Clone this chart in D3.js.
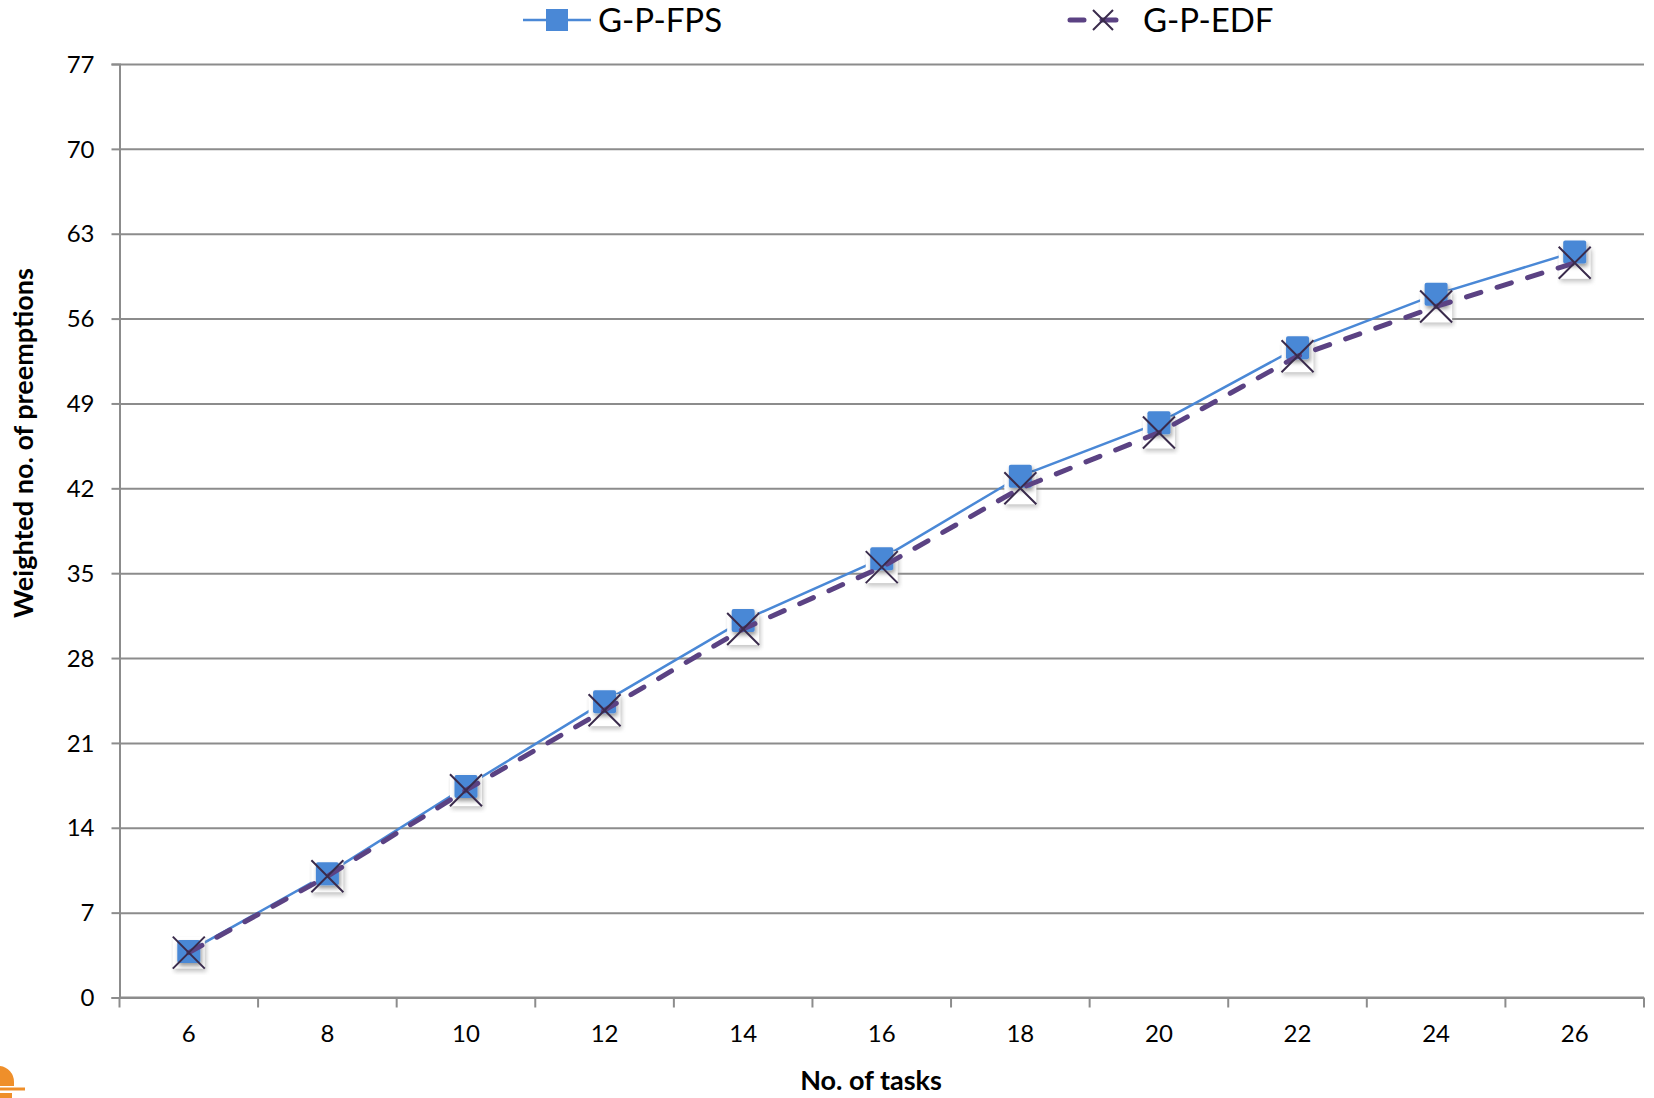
<!DOCTYPE html>
<html>
<head>
<meta charset="utf-8">
<script src="https://cdn.jsdelivr.net/npm/d3@7"></script>
<style>
  body { margin: 0; background: #fff; }
  text { font-family: Lato, "Open Sans", sans-serif; fill: #000; }
</style>
</head>
<body>
<div id="chart"></div>
<script>
// data
const tasks = ["6", "8", "10", "12", "14", "16", "18", "20", "22", "24", "26"];
const fps = [3.8, 10.2, 17.4, 24.4, 31.1, 36.2, 43.0, 47.4, 53.6, 58.0, 61.5];
const edf = [3.7, 10.0, 17.1, 23.7, 30.4, 35.5, 42.0, 46.6, 52.9, 57.0, 60.6];
const yTicks = [0, 7, 14, 21, 28, 35, 42, 49, 56, 63, 70, 77];
const seriesNames = ["G-P-FPS", "G-P-EDF"];

const W = 1654, H = 1098;
const plotL = 119.5, plotR = 1644, plotT = 64, plotB = 997.5;

const svg = d3.select("#chart").append("svg")
    .attr("width", W).attr("height", H);

const defs = svg.append("defs");
defs.append("filter").attr("id", "shadow")
    .attr("x", "-50%").attr("y", "-50%").attr("width", "200%").attr("height", "200%")
  .append("feDropShadow")
    .attr("dx", 1.5).attr("dy", 3).attr("stdDeviation", 2)
    .attr("flood-color", "#000").attr("flood-opacity", 0.4);
defs.append("filter").attr("id", "blur")
  .append("feGaussianBlur").attr("stdDeviation", 2);

const x = d3.scaleBand().domain(tasks).range([plotL, plotR]).padding(0);
const y = d3.scaleLinear().domain([0, 77]).range([plotB, plotT]);
const cx = d => x(d) + x.bandwidth() / 2;

const gridColor = "#8c8c8c";

// horizontal grid + left ticks
svg.append("g")
    .attr("transform", `translate(${plotL},0)`)
    .call(d3.axisLeft(y).tickValues(yTicks).tickSize(8).tickPadding(10))
    .call(g => g.select(".domain").attr("stroke", gridColor).attr("stroke-width", 2))
    .call(g => g.selectAll(".tick line").attr("stroke", gridColor).attr("stroke-width", 2))
    .call(g => g.selectAll(".tick").append("line")
        .attr("x1", 0).attr("x2", plotR - plotL)
        .attr("stroke", gridColor).attr("stroke-width", 2))
    .call(g => g.selectAll(".tick text")
        .style("font-size", "24px").attr("x", -25).attr("dy", "0.34em"));

// x axis with ticks at category boundaries
const xAxis = svg.append("g").attr("transform", `translate(0,${plotB})`);
xAxis.append("line").attr("x1", plotL).attr("x2", plotR)
    .attr("stroke", gridColor).attr("stroke-width", 2);
const bounds = tasks.map(t => x(t)).concat([plotR]);
xAxis.selectAll("line.tk").data(bounds).enter().append("line")
    .attr("class", "tk")
    .attr("x1", d => d).attr("x2", d => d)
    .attr("y1", 0).attr("y2", 10)
    .attr("stroke", gridColor).attr("stroke-width", 2);
xAxis.selectAll("text").data(tasks).enter().append("text")
    .attr("x", d => cx(d)).attr("y", 44)
    .attr("text-anchor", "middle")
    .style("font-size", "24px")
    .text(d => d);

// axis titles
svg.append("text")
    .attr("x", 871).attr("y", 1090)
    .attr("text-anchor", "middle")
    .style("font-size", "27px").style("font-weight", "bold")
    .text("No. of tasks");
svg.append("text")
    .attr("transform", "translate(33,443) rotate(-90)")
    .attr("text-anchor", "middle")
    .style("font-size", "27px").style("font-weight", "bold")
    .text("Weighted no. of preemptions");

const blue = "#4a88d6", purple = "#5b4283", crossCol = "#3a2b4c";
const line = d3.line().x((d, i) => cx(tasks[i])).y(d => y(d));

// FPS line
svg.append("path").datum(fps)
    .attr("d", line).attr("fill", "none")
    .attr("stroke", blue).attr("stroke-width", 2.5);

// pale shadow boxes behind the X markers
const box = 32;
svg.selectAll("rect.sh").data(edf).enter().append("rect")
    .attr("class", "sh")
    .attr("x", (d, i) => cx(tasks[i]) - box / 2 + 1.5)
    .attr("y", d => y(d) - box / 2 + 3)
    .attr("width", box).attr("height", box)
    .attr("fill", "#999").attr("opacity", 0.55)
    .attr("filter", "url(#blur)");
svg.selectAll("rect.bx").data(edf).enter().append("rect")
    .attr("class", "bx")
    .attr("x", (d, i) => cx(tasks[i]) - box / 2)
    .attr("y", d => y(d) - box / 2)
    .attr("width", box).attr("height", box)
    .attr("fill", "#fff");

// FPS squares
const sq = 23;
svg.selectAll("rect.fps").data(fps).enter().append("rect")
    .attr("class", "fps")
    .attr("x", (d, i) => cx(tasks[i]) - sq / 2)
    .attr("y", d => y(d) - sq / 2)
    .attr("width", sq).attr("height", sq)
    .attr("rx", 2)
    .attr("fill", blue)
    .attr("filter", "url(#shadow)");

// EDF dashed line
svg.append("path").datum(edf)
    .attr("d", line).attr("fill", "none")
    .attr("stroke", purple).attr("stroke-width", 5)
    .attr("stroke-dasharray", "15,17").attr("stroke-linecap", "round");

// EDF crosses
const h = 16;
const crosses = svg.selectAll("g.edf").data(edf).enter().append("g")
    .attr("class", "edf")
    .attr("transform", (d, i) => `translate(${cx(tasks[i])},${y(d)})`);
crosses.append("path")
    .attr("d", `M${-h},${-h}L${h},${h}M${-h},${h}L${h},${-h}`)
    .attr("stroke", crossCol).attr("stroke-width", 2);

// legend
const lg = svg.append("g");
lg.append("line").attr("x1", 523).attr("x2", 591).attr("y1", 20).attr("y2", 20)
    .attr("stroke", blue).attr("stroke-width", 2.5);
lg.append("rect").attr("x", 546).attr("y", 9).attr("width", 22).attr("height", 22)
    .attr("fill", blue);
lg.append("text").attr("x", 598).attr("y", 32)
    .style("font-size", "33px").text(seriesNames[0]);
lg.append("line").attr("x1", 1070).attr("x2", 1118).attr("y1", 20).attr("y2", 20)
    .attr("stroke", purple).attr("stroke-width", 5)
    .attr("stroke-dasharray", "14,18").attr("stroke-linecap", "round");
lg.append("path")
    .attr("d", "M1093,10L1113,30M1093,30L1113,10")
    .attr("stroke", crossCol).attr("stroke-width", 2);
lg.append("text").attr("x", 1143).attr("y", 32)
    .style("font-size", "33px").text(seriesNames[1]);

// small orange mark at bottom-left
const orange = "#ef8f2a";
svg.append("path")
    .attr("d", "M0,1066 A16,16 0 0 1 14,1082 L14,1086 L0,1086 Z")
    .attr("fill", orange);
svg.append("line").attr("x1", 0).attr("x2", 25).attr("y1", 1089).attr("y2", 1089)
    .attr("stroke", orange).attr("stroke-width", 3);
svg.append("rect").attr("x", 0).attr("y", 1093).attr("width", 12).attr("height", 5)
    .attr("fill", orange);
</script>
</body>
</html>
